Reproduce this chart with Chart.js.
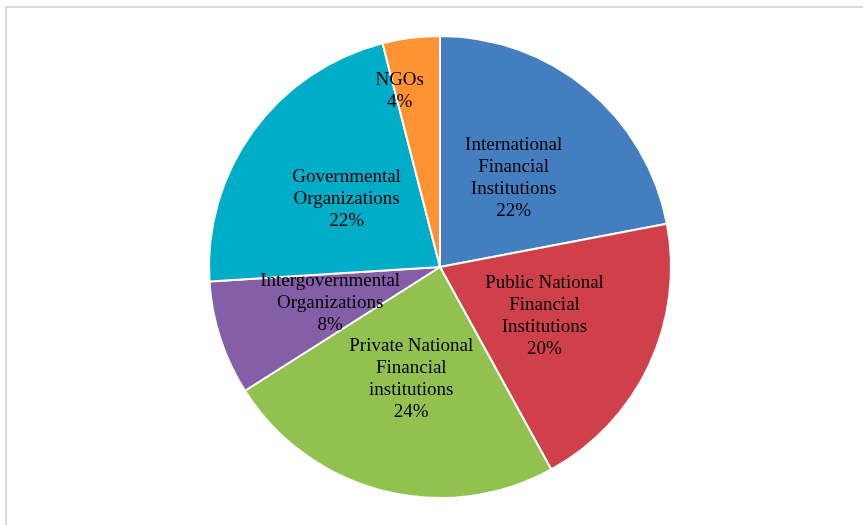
<!DOCTYPE html>
<html>
<head>
<meta charset="utf-8">
<script src="https://cdn.jsdelivr.net/npm/chart.js@4.4.0/dist/chart.umd.min.js"></script>
<style>
    html, body { margin: 0; padding: 0; background: #fff; }
    #wrap { position: relative; width: 863px; height: 525px; }
    #frame { position: absolute; left: 5px; top: 6px; right: 0; bottom: 0;
             border-left: 2px solid #dadada; border-top: 2px solid #dadada; }
    canvas { position: absolute; left: 0; top: 0; }
</style>
</head>
<body>
<div id="wrap">
    <div id="frame"></div>
    <canvas id="pie" width="863" height="525"></canvas>
</div>
<script>
// categories (label lines) and shares in %
var labels = [
    ['International', 'Financial', 'Institutions'],
    ['Public National', 'Financial', 'Institutions'],
    ['Private National', 'Financial', 'institutions'],
    ['Intergovernmental', 'Organizations'],
    ['Governmental', 'Organizations'],
    ['NGOs']
];
var shares = [22, 20, 24, 8, 22, 4];
var colors = ['#437ec1', '#d0404a', '#92c14f', '#855ea8', '#00adc8', '#ff9332'];

// draws the category + percent inside each slice
var sliceLabels = {
    id: 'sliceLabels',
    afterDatasetsDraw: function (chart) {
        var ctx = chart.ctx;
        var meta = chart.getDatasetMeta(0);
        ctx.save();
        ctx.font = '19px "Liberation Serif", serif';
        ctx.fillStyle = '#000';
        ctx.textAlign = 'center';
        ctx.textBaseline = 'middle';
        meta.data.forEach(function (arc, i) {
            var p = arc.getProps(['x', 'y', 'startAngle', 'endAngle', 'outerRadius'], true);
            var mid = (p.startAngle + p.endAngle) / 2;
            var frac = shares[i] < 5 ? 0.78 : 0.5;
            if (shares[i] < 5) mid -= 0.1;
            var cx = p.x + Math.cos(mid) * p.outerRadius * frac;
            var cy = p.y + Math.sin(mid) * p.outerRadius * frac;
            var lines = labels[i].concat([shares[i] + '%']);
            var lh = 22;
            var y0 = cy - (lines.length - 1) * lh / 2;
            lines.forEach(function (t, k) {
                ctx.fillText(t, cx, y0 + k * lh);
            });
        });
        ctx.restore();
    }
};

var pie = new Chart(document.getElementById('pie'), {
    type: 'pie',
    data: {
        labels: labels.map(function (l) { return l.join(' '); }),
        datasets: [{
            data: shares,
            backgroundColor: colors,
            borderColor: '#ffffff',
            borderWidth: 2
        }]
    },
    options: {
        responsive: false,
        animation: false,
        layout: { padding: { left: 20, right: 3, top: 35, bottom: 26 } },
        plugins: {
            legend: { display: false },
            tooltip: { enabled: false }
        }
    },
    plugins: [sliceLabels]
});
</script>
</body>
</html>
